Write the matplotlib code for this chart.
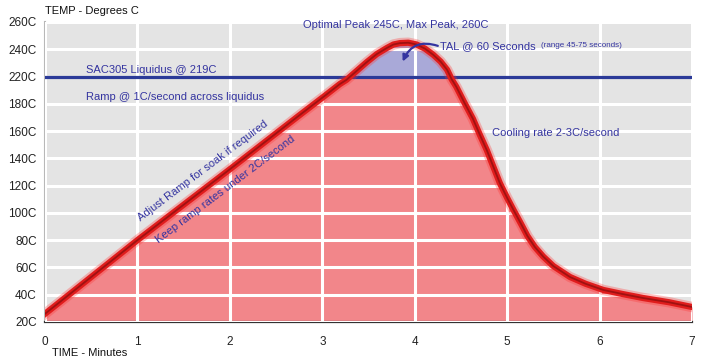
import numpy as np
import matplotlib
matplotlib.use('Agg')
import matplotlib.pyplot as plt

# reflow profile
time_min = [0, 1, 2, 2.76, 3.02, 3.19, 3.26, 3.37, 3.48, 3.59, 3.70, 3.77, 3.84, 3.93,
            4.02, 4.11, 4.20, 4.28, 4.35, 4.40, 4.45, 4.54, 4.63, 4.70, 4.78, 4.85,
            4.92, 5.0, 5.07, 5.15, 5.22, 5.30, 5.39, 5.5, 5.68, 5.85, 6.04, 6.25,
            6.47, 6.75, 7.0]
temp_c = [26, 80, 132, 172, 191, 209, 215, 224, 230.5, 236.5, 241, 243.5, 244.5, 244.8,
          243.5, 240.5, 236, 231, 225, 216, 205, 181, 169, 158, 146, 134,
          122, 111, 102, 92, 83, 75, 68, 61, 53, 48, 43.5, 40.5,
          37.6, 34.5, 31]

liquidus = 219
x_ticks = [0, 1, 2, 3, 4, 5, 6, 7]
y_ticks = [20, 40, 60, 80, 100, 120, 140, 160, 180, 220, 240, 260]
y_labels = ['20C', '40C', '60C', '80C', '100C', '120C', '140C', '160C', '180C', '220C', '240C', '260C']

plt.rcParams['font.family'] = ['Liberation Sans', 'DejaVu Sans']

# the original axis squeezes 180-220 into one grid step
def fwd(t):
    return np.interp(t, [-1000, 180, 220, 1000], [-1000, 180, 200, 980])

def inv(s):
    return np.interp(s, [-1000, 180, 200, 980], [-1000, 180, 220, 1000])

txt_blue = '#3434a0'

fig = plt.figure(figsize=(7.05, 3.62), dpi=100)
ax = fig.add_axes([45/705, 1 - 322/362, 647/705, 300/362])
ax.set_yscale('function', functions=(fwd, inv))
ax.set_facecolor('#e4e4e4')

t = np.array(time_min)
y = np.array(temp_c)

ax.fill_between(t, np.minimum(y, liquidus), 20, color='#f2868a', lw=0, zorder=1)
ax.fill_between(t, y, liquidus, where=y >= liquidus, interpolate=True,
                color='#a9a9d8', lw=0, zorder=1)

ax.set_axisbelow(False)
ax.grid(True, color='white', lw=2.2)

ax.axhline(liquidus, color='#2b3a98', lw=2.3, zorder=3)

# curve with a soft glow
ax.plot(t, y, color='#ff3030', lw=7.5, alpha=0.3, zorder=4, solid_joinstyle='round')
ax.plot(t, y, color='#e01d1d', lw=4.5, zorder=4, solid_joinstyle='round')
ax.plot(t, y, color='#6a0808', lw=1.3, alpha=0.55, zorder=4, solid_joinstyle='round')

ax.set_xlim(0, 7)
ax.set_ylim(20, 260)
ax.set_xticks(x_ticks)
ax.set_yticks(y_ticks)
ax.set_yticklabels(y_labels)
ax.tick_params(length=0, labelsize=8.5, colors='#222222')
ax.tick_params(axis='x', pad=10)
ax.tick_params(axis='y', pad=6)

for s in ['top', 'right']:
    ax.spines[s].set_visible(False)
ax.spines['left'].set_color('#b8b8b8')
ax.spines['left'].set_linewidth(1.5)
ax.spines['bottom'].set_color('#333333')
ax.spines['bottom'].set_linewidth(1.6)

fig.text(45/705, 1 - 11/362, 'TEMP - Degrees C', fontsize=8, va='center', color='#111111')
fig.text(52/705, 1 - 353/362, 'TIME - Minutes', fontsize=8, va='center', color='#111111')

ax.text(0.44, 225, 'SAC305 Liquidus @ 219C', fontsize=8, color=txt_blue, va='center')
ax.text(0.44, 190, 'Ramp @ 1C/second across liquidus', fontsize=8, color=txt_blue, va='center')
ax.text(2.79, 257.8, 'Optimal Peak 245C, Max Peak, 260C', fontsize=8, color=txt_blue, va='center')
ax.text(4.84, 158.6, 'Cooling rate 2-3C/second', fontsize=8, color=txt_blue, va='center')

ax.text(4.27, 242.5, 'TAL @ 60 Seconds', fontsize=8, color=txt_blue, va='center', zorder=5)
ax.annotate('', xy=(3.87, 231), xytext=(4.25, 242.5), zorder=5,
            arrowprops=dict(arrowstyle='-|>', color=txt_blue, lw=1.6, shrinkA=0, shrinkB=0,
                            mutation_scale=9, connectionstyle='arc3,rad=0.45'))
ax.text(5.37, 242.5, '(range 45-75 seconds)', fontsize=5.8, color=txt_blue, va='center')

ax.text(1.71, 130.5, 'Adjust Ramp for soak if required', fontsize=8, color=txt_blue,
        rotation=37, rotation_mode='anchor', ha='center', va='center', zorder=5)
ax.text(1.95, 117, 'Keep ramp rates under 2C/second', fontsize=8, color=txt_blue,
        rotation=37, rotation_mode='anchor', ha='center', va='center', zorder=5)

plt.savefig('out.png', dpi=100)
